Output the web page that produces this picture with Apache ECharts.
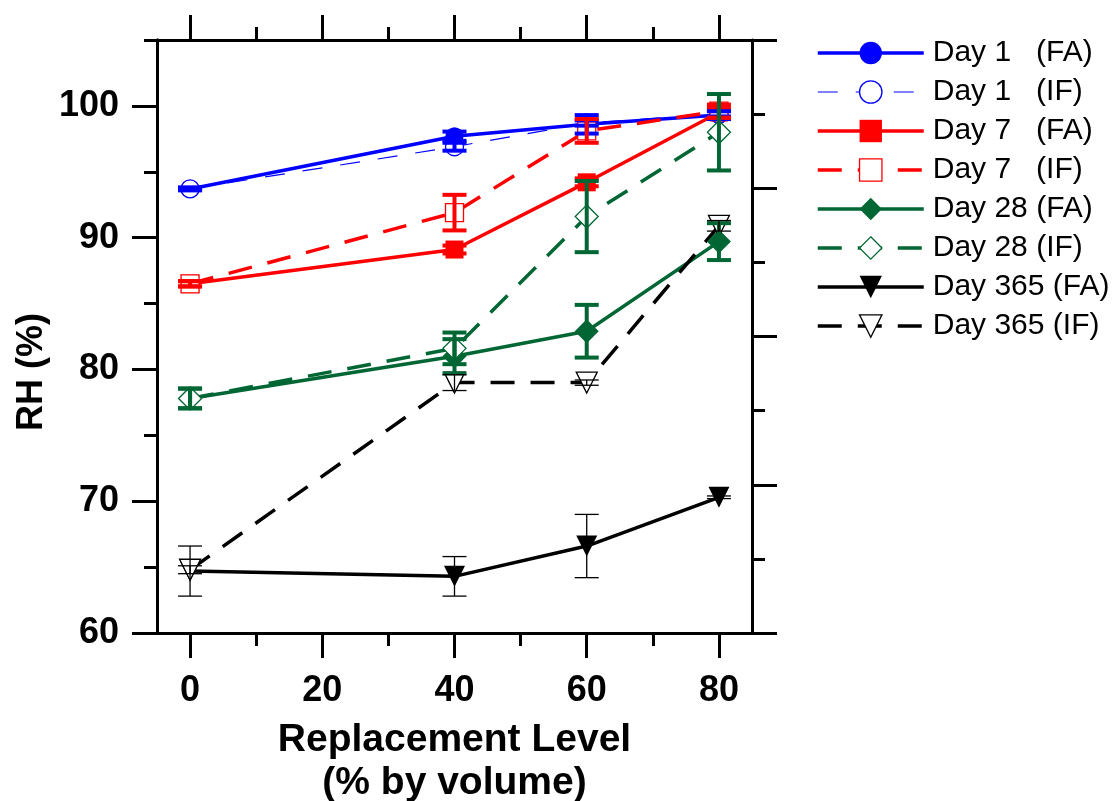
<!DOCTYPE html>
<html><head><meta charset="utf-8">
<script src="https://cdn.jsdelivr.net/npm/echarts@6/dist/echarts.min.js"></script>
<style>html,body{margin:0;padding:0;background:#fff}#c{width:1114px;height:801px}</style>
</head><body><div id="c"></div>
<script>
// ---- data ----
const replacement = [0, 40, 60, 80];
const xMajorTicks = [0, 20, 40, 60, 80];
const xMinorTicks = [10, 30, 50, 70];
const yMajorTicks = [60, 70, 80, 90, 100];
const yMinorTicks = [65, 75, 85, 95, 105];

const seriesNames = ['Day 1   (FA)', 'Day 1   (IF)', 'Day 7   (FA)', 'Day 7   (IF)',
  'Day 28 (FA)', 'Day 28 (IF)', 'Day 365 (FA)', 'Day 365 (IF)'];

const day1FA = [93.7, 97.7, 98.6, 99.3];
const day1FAErr = [0.1, 0.35, 0.7, 0.3];
const day1IF = [93.7, 96.9, 98.7, 99.4];
const day1IFErr = [0.1, 0.3, 0.2, 0.2];
const day7FA = [86.5, 89.1, 94.2, 99.5];
const day7FAErr = [0.2, 0.3, 0.3, 0.4];
const day7IF = [86.5, 91.9, 98.1, 99.6];
const day7IFErr = [0.2, 1.35, 0.9, 0.5];
const day28FA = [77.8, 81.0, 82.9, 89.7];
const day28FAErr = [0.75, 1.3, 2.0, 1.4];
const day28IF = [77.8, 81.6, 91.6, 98.0];
const day28IFErr = [0.75, 1.2, 2.7, 2.9];
const day365FA = [64.7, 64.3, 66.6, 70.3];
const day365FAErr = [1.9, 1.5, 2.4, 0.1];
const day365IF = [64.8, 79.0, 79.0, 90.9];
const day365IFErr = [0.3, 0.6, 0.2, 0.4];

// ---- chart ----
const FONT = '"Liberation Sans", Arial, sans-serif';
const BLUE = '#0000ff', RED = '#ff0000', GREEN = '#006633', BLACK = '#000000';

function lineSeries(name, vals, color, symbol, filled, dash, lw, size, rotate) {
  return {
    name: name, type: 'line',
    data: replacement.map((x, i) => [x, vals[i]]),
    symbol: symbol, symbolSize: size, symbolRotate: rotate || 0,
    showAllSymbol: true,
    lineStyle: { color: color, width: lw, type: dash || 'solid' },
    itemStyle: filled ? { color: color, borderColor: color, borderWidth: 0 }
                      : { color: '#ffffff', borderColor: color, borderWidth: 1.3 },
    emphasis: { disabled: true },
    z: 2
  };
}

function errSeries(vals, errs, color, lw, cap) {
  return {
    type: 'custom',
    data: replacement.map((x, i) => [x, vals[i], errs[i]]),
    encode: { x: 0, y: 1 },
    z: 3,
    silent: true,
    renderItem: function (params, api) {
      const x = api.value(0), y = api.value(1), e = api.value(2);
      const t = api.coord([x, y + e]);
      const b = api.coord([x, y - e]);
      const st = { stroke: color, lineWidth: lw, fill: null };
      return {
        type: 'group', children: [
          { type: 'line', shape: { x1: t[0], y1: t[1], x2: b[0], y2: b[1] }, style: st },
          { type: 'line', shape: { x1: t[0] - cap / 2, y1: t[1], x2: t[0] + cap / 2, y2: t[1] }, style: st },
          { type: 'line', shape: { x1: b[0] - cap / 2, y1: b[1], x2: b[0] + cap / 2, y2: b[1] }, style: st }
        ]
      };
    }
  };
}

const axLine = { show: true, onZero: false, lineStyle: { color: '#000', width: 3 } };
function xAx(pos, ticks, len, withLabel) {
  return {
    type: 'value', position: pos, min: -5, max: 85,
    axisLine: axLine,
    axisTick: { show: true, inside: false, length: len, customValues: ticks, lineStyle: { color: '#000', width: 3 } },
    axisLabel: withLabel ? { show: true, customValues: ticks, margin: 40, color: '#000',
      fontSize: 36, fontWeight: 'bold', fontFamily: FONT } : { show: false },
    splitLine: { show: false }
  };
}
function yAx(pos, ticks, len, withLabel) {
  return {
    type: 'value', position: pos, min: 60, max: 105,
    axisLine: axLine,
    axisTick: { show: true, inside: false, length: len, customValues: ticks, lineStyle: { color: '#000', width: 3 } },
    axisLabel: withLabel ? { show: true, customValues: ticks, margin: 38, color: '#000',
      fontSize: 36, fontWeight: 'bold', fontFamily: FONT } : { show: false },
    splitLine: { show: false }
  };
}

const xMain = xAx('bottom', xMajorTicks, 25, true);
xMain.name = 'Replacement Level\n(% by volume)';
xMain.nameLocation = 'middle';
xMain.nameGap = 86;
xMain.nameTextStyle = { color: '#000', fontSize: 39, fontWeight: 'bold', fontFamily: FONT, lineHeight: 43 };

const option = {
  animation: false,
  backgroundColor: '#ffffff',
  grid: { left: 157, right: 362, top: 40, bottom: 168, outerBoundsMode: 'none', containLabel: false },
  xAxis: [
    xMain,
    xAx('bottom', xMinorTicks, 13, false),
    xAx('top', xMajorTicks, 25, false),
    xAx('top', xMinorTicks, 13, false)
  ],
  yAxis: [
    yAx('left', yMajorTicks, 25, true),
    yAx('left', yMinorTicks, 13, false),
    {
      type: 'value', position: 'right', min: 0, max: 8, interval: 2,
      axisLine: axLine,
      axisTick: { show: true, inside: false, length: 25, lineStyle: { color: '#000', width: 3 } },
      minorTick: { show: true, splitNumber: 2, length: 13, lineStyle: { color: '#000', width: 3 } },
      axisLabel: { show: false }, splitLine: { show: false }, minorSplitLine: { show: false }
    }
  ],
  legend: {
    orient: 'vertical', left: 811, top: 33,
    itemWidth: 106, itemHeight: 28, itemGap: 9,
    selectedMode: false,
    data: seriesNames,
    textStyle: { color: '#000', fontSize: 30, fontFamily: FONT, lineHeight: 30, padding: [0, 0, 0, 4] },
    lineStyle: { width: 'inherit' },
    itemStyle: { borderWidth: 'inherit' },
    symbolRotate: 'inherit'
  },
  graphic: [{
    type: 'text', x: 32, y: 372, rotation: Math.PI / 2,
    style: { text: 'RH (%)', font: 'bold 36px ' + FONT, align: 'center', verticalAlign: 'middle', fill: '#000' }
  }],
  series: [
    lineSeries(seriesNames[0], day1FA, BLUE, 'circle', true, 'solid', 3.5, 18),
    lineSeries(seriesNames[1], day1IF, BLUE, 'circle', false, [20, 18], 1.2, 18),
    lineSeries(seriesNames[2], day7FA, RED, 'rect', true, 'solid', 3.5, 18),
    lineSeries(seriesNames[3], day7IF, RED, 'rect', false, [24, 16], 3.5, 18),
    lineSeries(seriesNames[4], day28FA, GREEN, 'diamond', true, 'solid', 3.5, 24),
    lineSeries(seriesNames[5], day28IF, GREEN, 'diamond', false, [24, 16], 3.5, 23),
    lineSeries(seriesNames[6], day365FA, BLACK, 'triangle', true, 'solid', 3.5, 21, 180),
    lineSeries(seriesNames[7], day365IF, BLACK, 'triangle', false, [24, 16], 3.5, 21, 180),
    errSeries(day1FA, day1FAErr, BLUE, 4, 24),
    errSeries(day1IF, day1IFErr, BLUE, 4, 24),
    errSeries(day7FA, day7FAErr, RED, 4, 24),
    errSeries(day7IF, day7IFErr, RED, 4, 24),
    errSeries(day28FA, day28FAErr, GREEN, 4, 24),
    errSeries(day28IF, day28IFErr, GREEN, 4, 24),
    errSeries(day365FA, day365FAErr, BLACK, 1.3, 24),
    errSeries(day365IF, day365IFErr, BLACK, 1.3, 24)
  ]
};

const chart = echarts.init(document.getElementById('c'), null, { renderer: 'canvas' });
chart.setOption(option);
</script>
</body></html>
